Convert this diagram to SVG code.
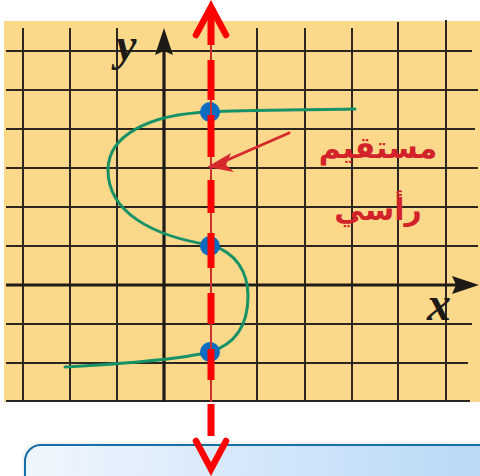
<svg xmlns="http://www.w3.org/2000/svg" width="480" height="476" viewBox="0 0 480 476">
  <defs>
    <style>
      .grid { stroke: #2b2620; stroke-width: 2; fill: none; }
      .axis { stroke: #1e1a16; stroke-width: 3.2; fill: none; }
      .curve { stroke: #179267; stroke-width: 3; fill: none; stroke-linecap: round; }
      .dot { fill: #0b6cc0; }
      .vdash { stroke: #ff0000; stroke-width: 7; fill: none; }
      .vthin { stroke: #c9302e; stroke-width: 2; fill: none; }
      .chev { stroke: #ff0000; stroke-width: 6.5; fill: none; stroke-linecap: round; stroke-linejoin: miter; }
      .lbl { font-family: "Liberation Serif", "DejaVu Serif", serif; font-style: italic; font-weight: bold; fill: #1e1a16; }
      .ar { font-family: "DejaVu Sans", "Noto Sans", sans-serif; fill: #d2232a; font-weight: bold; }
    </style>
    <linearGradient id="boxg" x1="0" y1="0" x2="1" y2="0">
      <stop offset="0" stop-color="#f0f6fd"/>
      <stop offset="1" stop-color="#b7d7f6"/>
    </linearGradient>
  </defs>

  <rect x="0" y="0" width="480" height="476" fill="#ffffff"/>

  <g id="box">
    <rect x="22" y="442" width="470" height="50" rx="17" fill="#e8e8e8" opacity="0.5"/>
    <rect x="25" y="445" width="470" height="50" rx="16" fill="url(#boxg)" stroke="#1470a6" stroke-width="2"/>
  </g>

  <g id="plane">
    <rect x="4" y="21" width="476" height="381" fill="#fcd98a"/>
    <g class="grid">
      <line x1="23" y1="28" x2="23" y2="402"/>
      <line x1="70" y1="28" x2="70" y2="402"/>
      <line x1="117" y1="28" x2="117" y2="402"/>
      <line x1="211" y1="28" x2="211" y2="402"/>
      <line x1="257" y1="28" x2="257" y2="402"/>
      <line x1="305" y1="28" x2="305" y2="402"/>
      <line x1="352" y1="28" x2="352" y2="402"/>
      <line x1="398" y1="22" x2="398" y2="402"/>
      <line x1="446" y1="20" x2="446" y2="402"/>
      <line x1="6" y1="51" x2="472" y2="51"/>
      <line x1="6" y1="90" x2="478" y2="90"/>
      <line x1="6" y1="129" x2="475" y2="129"/>
      <line x1="6" y1="168" x2="478" y2="168"/>
      <line x1="6" y1="207" x2="478" y2="207"/>
      <line x1="6" y1="246" x2="478" y2="246"/>
      <line x1="6" y1="324" x2="472" y2="324"/>
      <line x1="6" y1="363" x2="468" y2="363"/>
      <line x1="6" y1="401" x2="470" y2="401"/>
    </g>
  </g>

  <g id="axes">
    <line class="axis" x1="164" y1="402" x2="164" y2="50"/>
    <path d="M164,28 L173,55 L164,51 L155,55 Z" fill="#1e1a16"/>
    <line class="axis" x1="6" y1="285" x2="458" y2="285"/>
    <path d="M479,285 L452,276 L456,285 L452,294 Z" fill="#1e1a16"/>
    <text class="lbl" x="116" y="60" font-size="46">y</text>
    <text class="lbl" x="427" y="320" font-size="48">x</text>
  </g>

  <g id="curve">
    <path class="curve" d="M355,109 C300,110 240,110 210,112 C150,114 108,135 108,170 C108,212 152,236 210,245 C236,252 248,272 248,296 C248,324 236,344 210,352 C176,360 120,364 65,367"/>
  </g>

  <g id="points">
    <circle class="dot" cx="210" cy="112" r="10"/>
    <circle class="dot" cx="210" cy="246" r="10"/>
    <circle class="dot" cx="210" cy="352" r="10"/>
  </g>

  <g id="vertical-line">
    <line class="vthin" x1="211" y1="40" x2="211" y2="402"/>
    <path class="vdash" d="M211,10 V45 M211,60 V100 M211,115 V157 M211,180 V213 M211,233 V268 M211,293 V324 M211,349 V380 M211,404 V436"/>
    <path class="chev" d="M196,35 L211,7 L226,35"/>
    <path class="chev" d="M196,441 L211,469 L226,441"/>
  </g>

  <g id="label">
    <line x1="289" y1="133" x2="225" y2="161" stroke="#d42a2f" stroke-width="3" stroke-linecap="round"/>
    <path d="M207,167 L231,153 L226,165 L234,172 Z" fill="#d42a2f"/>
    <text class="ar" x="378" y="158" font-size="30" text-anchor="middle" direction="rtl">مستقيم</text>
    <text class="ar" x="378" y="220" font-size="30" text-anchor="middle" direction="rtl">رأسي</text>
  </g>
</svg>
